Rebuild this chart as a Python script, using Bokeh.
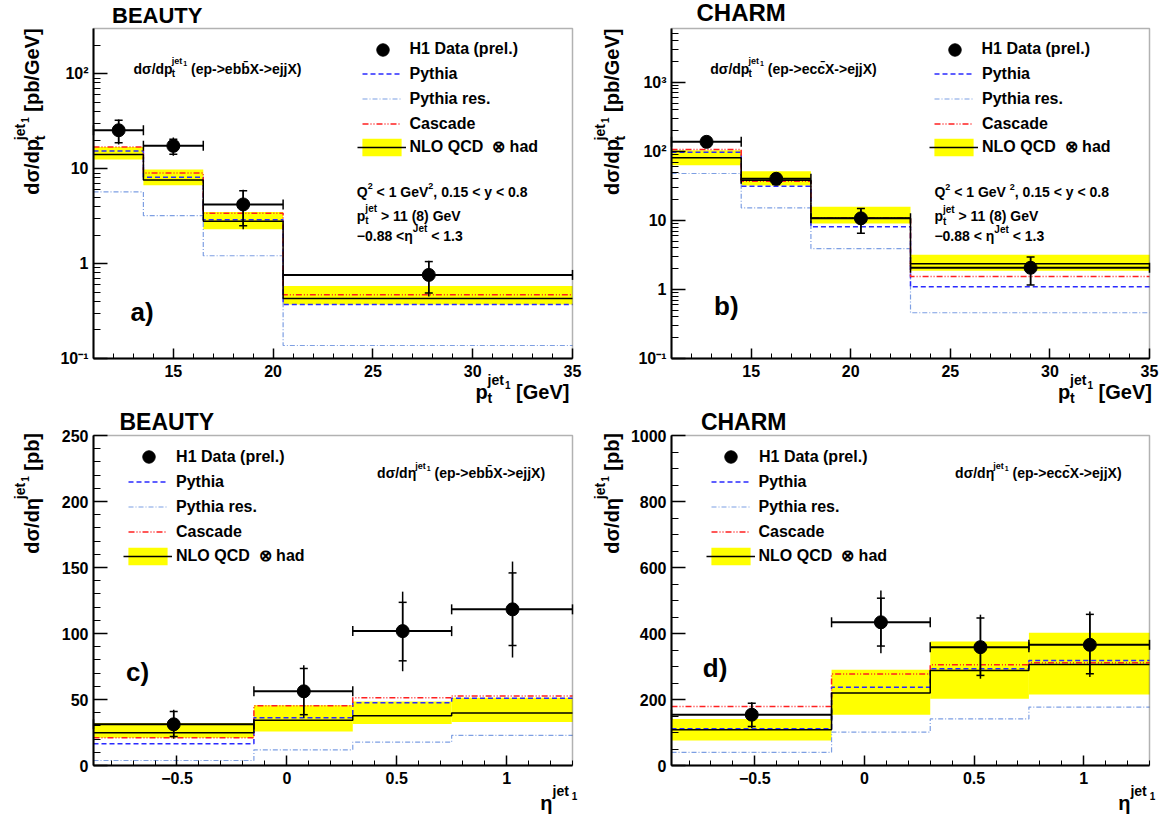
import math
from bokeh.plotting import figure
from bokeh.models import (ColumnDataSource, Whisker, TeeHead, Label, Legend, LegendItem,
                          FixedTicker, SingleIntervalTicker, Range1d, BoxAnnotation)
from bokeh.layouts import column, row
from bokeh.embed import file_html
from bokeh.resources import INLINE

FONT = "Liberation Sans"

# ---------------- data ----------------
# a) BEAUTY  dsigma/dpt [pb/GeV]
a_edges = [11.0, 13.5, 16.5, 20.5, 35.0]
a_x = [12.26, 15.0, 18.5, 27.8]
a_y = [25.4, 17.4, 4.2, 0.76]
a_stat_lo = [18.8, 14.2, 2.5, 0.49]
a_stat_hi = [32.3, 20.4, 5.85, 1.05]
a_tot_lo = [18.0, 13.7, 2.3, 0.45]
a_tot_hi = [32.9, 21.3, 6.0, 1.07]
a_nlo = [14.1, 7.6, 2.8, 0.43]
a_nlo_lo = [12.5, 6.7, 2.3, 0.37]
a_nlo_hi = [16.9, 9.8, 3.5, 0.58]
a_pythia = [15.4, 8.1, 2.9, 0.37]
a_pythia_res = [5.7, 3.2, 1.21, 0.137]
a_cascade = [16.9, 9.0, 3.4, 0.47]

# b) CHARM  dsigma/dpt [pb/GeV]
b_edges = [11.0, 14.5, 18.0, 23.0, 35.0]
b_x = [12.76, 16.26, 20.51, 29.03]
b_y = [137.0, 40.0, 10.7, 2.06]
b_stat_lo = [125.0, 33.0, 6.5, 1.16]
b_stat_hi = [150.0, 46.5, 14.9, 2.95]
b_tot_lo = [125.0, 33.0, 6.5, 1.16]
b_tot_hi = [150.0, 46.5, 14.9, 2.95]
b_nlo = [80.5, 38.1, 10.7, 2.36]
b_nlo_lo = [63.0, 32.0, 9.0, 1.87]
b_nlo_hi = [104.0, 51.6, 15.7, 3.17]
b_pythia = [97.3, 31.3, 8.1, 1.09]
b_pythia_res = [47.7, 15.2, 3.9, 0.46]
b_cascade = [106.0, 37.0, 10.8, 1.54]

# c) BEAUTY  dsigma/deta [pb]
eta_edges = [-0.88, -0.15, 0.3, 0.75, 1.3]
c_x = [-0.515, 0.077, 0.527, 1.027]
c_y = [31.2, 56.2, 101.8, 118.3]
c_stat_lo = [22.0, 38.5, 79.3, 90.9]
c_stat_hi = [41.0, 73.5, 123.6, 145.9]
c_tot_lo = [20.3, 36.2, 71.4, 81.8]
c_tot_hi = [42.3, 76.0, 131.7, 154.5]
c_nlo = [24.8, 34.2, 37.7, 39.8]
c_nlo_lo = [21.0, 25.8, 31.5, 32.9]
c_nlo_hi = [32.2, 45.6, 48.5, 51.4]
c_pythia = [16.5, 36.2, 47.6, 51.0]
c_pythia_res = [3.8, 11.9, 17.7, 22.8]
c_cascade = [21.0, 45.3, 51.4, 52.7]

# d) CHARM  dsigma/deta [pb]
d_x = [-0.514, 0.075, 0.529, 1.028]
d_y = [154.0, 434.0, 358.6, 365.7]
d_stat_lo = [118.0, 362.0, 273.0, 278.0]
d_stat_hi = [189.0, 507.0, 447.0, 458.0]
d_tot_lo = [114.0, 340.0, 263.0, 268.0]
d_tot_hi = [192.0, 530.0, 457.0, 467.0]
d_nlo = [108.0, 220.0, 288.0, 306.0]
d_nlo_lo = [76.0, 154.0, 202.0, 215.0]
d_nlo_hi = [141.0, 290.0, 376.0, 402.0]
d_pythia = [111.0, 237.0, 293.0, 318.0]
d_pythia_res = [40.0, 101.0, 141.0, 177.0]
d_cascade = [179.0, 277.0, 305.0, 311.0]

legend_labels = ["H1 Data (prel.)", "Pythia", "Pythia res.", "Cascade", "NLO QCD \u00a0\u2297 had"]
log_tick_labels = {0.1: "10\u207b\u00b9", 1: "1", 10: "10", 100: "10\u00b2", 1000: "10\u00b3"}
eta_tick_labels = {-0.5: "\u22120.5", 0: "0", 0.5: "0.5", 1: "1"}

# ---------------- text helpers ----------------
CW = {' ': 278, '(': 333, ')': 333, ',': 278, '-': 333, '.': 278, '/': 278, '<': 584, '>': 584,
      '[': 333, ']': 333, '\u2212': 584, '\u03c3': 620, '\u03b7': 611, '\u2297': 838, '\u0304': 0,
      '\u00a0': 278}
for ch in "0123456789":
    CW[ch] = 556
CW.update(dict(A=722, B=722, C=722, D=722, E=667, G=778, H=722, J=556, L=611, M=833, N=722, O=778,
               P=667, Q=778, R=722, T=611, U=722, V=667, X=667, Y=667))
CW.update(dict(a=556, b=611, c=556, d=611, e=556, h=611, i=278, j=278, l=278, n=611, o=611, p=611,
               r=389, s=556, t=333, y=556, x=556))

BASE_FIX = 0.3  # the renderer draws "alphabetic" text a bit low; lift it by this fraction of the size


def tw(s, size):
    return sum(CW.get(ch, 600) for ch in s) / 1000.0 * size


def put_text(p, sx, sy, text, size, angle=0.0):
    lift = BASE_FIX * size
    sx += -math.sin(angle) * lift
    sy += math.cos(angle) * lift
    p.add_layout(Label(x=sx, y=sy, x_units="screen", y_units="screen", text=text, angle=angle,
                       text_font=FONT, text_font_size=f"{size}px", text_font_style="bold",
                       text_color="black", text_align="left", text_baseline="alphabetic"))


def rich(p, sx, sy, segs, angle=0.0):
    dx, dy = math.cos(angle), math.sin(angle)
    nx, ny = -math.sin(angle), math.cos(angle)
    cur = 0.0
    for s in segs:
        if isinstance(s, (int, float)):
            cur += s
            continue
        text, size, rise, adv = s
        lead = len(text) - len(text.lstrip(" "))
        body = text.strip(" ")
        off = cur + tw(" " * lead, size)
        if body:
            put_text(p, sx + off * dx + rise * nx, sy + off * dy + rise * ny, body, size, angle)
        if adv:
            cur += tw(text, size)


def seg_ylab_pt():
    return [("d\u03c3/dp", 20, 0, True), ("t", 14, -6, False), ("jet", 14, 14, True), 1,
            ("1", 10, 10, True), (" [pb/GeV]", 20, 0, True)]


def seg_ylab_eta():
    return [("d\u03c3/d\u03b7", 20, 0, True), ("jet", 14, 14, True), 1,
            ("1", 10, 10, True), (" [pb]", 20, 0, True)]


def seg_xlab_pt():
    return [("p", 20, 0, True), ("t", 14, -4, False), ("jet", 14, 14, True), 1,
            ("1", 10, 10, True), (" [GeV]", 20, 0, True)]


def seg_xlab_eta():
    return [("\u03b7", 20, 0, True), ("jet", 14, 14, True), 3, ("1", 10, 10, True)]


def seg_proc(var, q):
    if var == "pt":
        head = [("d\u03c3/dp", 14, 0, True), ("t", 10, -4, False)]
    else:
        head = [("d\u03c3/d\u03b7", 14, 0, True)]
    return head + [("jet", 9, 9, True), 1, ("1", 7, 7, True),
                   (" (ep->e" + q + q + "\u0304X->ejjX)", 14, 0, True)]


def seg_cuts(variant):
    gev = " < 1 GeV" if variant == "a" else " < 1 GeV "
    eta = "\u22120.88 <\u03b7" if variant == "a" else "\u22120.88 < \u03b7"
    l1 = [("Q", 14, 0, True), ("2", 9, 7, True), (gev, 14, 0, True), ("2", 9, 7, True),
          (", 0.15 < y < 0.8", 14, 0, True)]
    l2 = [("p", 14, 0, True), ("t", 10, -4, False), ("jet", 10, 8, True), (" > 11 (8) GeV", 14, 0, True)]
    l3 = [(eta, 14, 0, True), ("Jet", 10, 8, True), (" < 1.3", 14, 0, True)]
    return l1, l2, l3


def panel(cfg):
    W, Hc = cfg["canvas"]
    rx0, rx1, ry0, ry1 = cfg["region"]          # pixel box of the data region inside the canvas
    xa, xb = cfg["xr"]
    ya, yb = cfg["yr"]
    # extend the ranges so that the data region sits at the wanted pixels (frame = whole canvas)
    sxp = (rx1 - rx0) / (xb - xa)
    x_range = Range1d(xa - rx0 / sxp, xb + (W - rx1) / sxp)
    if cfg["log"]:
        k = (ry1 - ry0) / (math.log10(yb) - math.log10(ya))
        y_range = Range1d(10 ** (math.log10(ya) - (Hc - ry1) / k), 10 ** (math.log10(yb) + ry0 / k))
    else:
        k = (ry1 - ry0) / (yb - ya)
        y_range = Range1d(ya - (Hc - ry1) / k, yb + ry0 / k)

    p = figure(width=W, height=Hc, x_range=x_range, y_range=y_range,
               y_axis_type="log" if cfg["log"] else "linear", output_backend="svg", toolbar_location=None,
               min_border=0, min_border_left=0, min_border_right=0, min_border_top=0, min_border_bottom=0)
    p.background_fill_color = "white"
    p.border_fill_color = "white"
    p.outline_line_color = None
    p.xgrid.visible = False
    p.ygrid.visible = False

    # axes of the library, pinned to the edges of the data region
    xax = p.xaxis[0]
    yax = p.yaxis[0]
    xax.fixed_location = ya
    xax.bounds = (xa, xb)
    yax.fixed_location = xa
    yax.bounds = (ya, yb)
    if cfg["var"] == "pt":
        xax.ticker = SingleIntervalTicker(interval=5, num_minor_ticks=5)
    else:
        xax.ticker = SingleIntervalTicker(interval=0.5, num_minor_ticks=5)
        xax.major_label_overrides = eta_tick_labels
    if cfg["log"]:
        majors = [t for t in (0.1, 1, 10, 100, 1000) if t <= yb]
        minors = [m * 10.0 ** e for e in range(-1, 4) for m in range(2, 10) if m * 10.0 ** e < yb]
        yax.ticker = FixedTicker(ticks=majors, minor_ticks=minors)
        yax.major_label_overrides = {kk: v for kk, v in log_tick_labels.items() if kk in majors}
    else:
        yax.ticker = SingleIntervalTicker(interval=cfg["yint"], num_minor_ticks=cfg["yminor"])
    xax.major_tick_in, xax.major_tick_out = 10, 0
    xax.minor_tick_in, xax.minor_tick_out = 5, 0
    xax.major_label_standoff = 6
    yax.major_tick_in, yax.major_tick_out = 14, 0
    yax.minor_tick_in, yax.minor_tick_out = 7, 0
    yax.major_label_standoff = 5
    for ax in (xax, yax):
        ax.axis_line_width = 2
        ax.axis_line_color = "black"
        ax.major_tick_line_width = 1.5
        ax.minor_tick_line_width = 1
        ax.major_tick_line_color = "black"
        ax.minor_tick_line_color = "black"
        ax.major_label_text_font = FONT
        ax.major_label_text_font_size = "16px"
        ax.major_label_text_font_style = "bold"
        ax.major_label_text_color = "black"

    edges = cfg["edges"]
    d = cfg["data"]
    # NLO uncertainty band
    r_band = p.quad(left=edges[:-1], right=edges[1:], bottom=d["nlo_lo"], top=d["nlo_hi"],
                    fill_color="#ffff00", line_color=None)

    def hstep(vals, **kw):
        return p.step(x=edges, y=list(vals) + [vals[-1]], mode="after", **kw)

    r_res = hstep(d["pythia_res"], line_color="#7d9fe3", line_dash="5 2 1 2", line_width=1.2)
    r_py = hstep(d["pythia"], line_color="#2a2aff", line_dash="5 3", line_width=1.5)
    r_cas = hstep(d["cascade"], line_color="#ff2020", line_dash="6 2 1 2 1 2", line_width=1.5)
    r_nlo = hstep(d["nlo"], line_color="black", line_width=1.5)

    src = ColumnDataSource(dict(x=d["x"], y=d["y"], slo=d["stat_lo"], shi=d["stat_hi"],
                                tlo=d["tot_lo"], thi=d["tot_hi"], xlo=edges[:-1], xhi=edges[1:]))
    p.add_layout(Whisker(source=src, base="x", lower="tlo", upper="thi", dimension="height",
                         line_color="black", line_width=1.5, upper_head=None, lower_head=None,
                         level="annotation"))
    p.add_layout(Whisker(source=src, base="x", lower="slo", upper="shi", dimension="height",
                         line_color="black", line_width=1.5,
                         upper_head=TeeHead(size=8, line_color="black", line_width=1.5),
                         lower_head=TeeHead(size=8, line_color="black", line_width=1.5),
                         level="annotation"))
    p.add_layout(Whisker(source=src, base="y", lower="xlo", upper="xhi", dimension="width",
                         line_color="black", line_width=2,
                         upper_head=TeeHead(size=10, line_color="black", line_width=1.5),
                         lower_head=TeeHead(size=10, line_color="black", line_width=1.5),
                         level="annotation"))
    r_data = p.scatter(x="x", y="y", source=src, marker="circle", size=13,
                       fill_color="black", line_color="black")

    # frame box around the data region
    p.add_layout(BoxAnnotation(left=xa, right=xb, bottom=ya, top=yb, fill_color=None, fill_alpha=0,
                               line_color="black", line_width=1.5, level="annotation"))

    def S(dx, dy):
        return rx0 + dx, Hc - (ry0 + dy)

    # legends
    mx, tx, lx, rows = cfg["leg"]
    common = dict(padding=0, margin=0, border_line_alpha=0, background_fill_alpha=0,
                  label_text_font=FONT, label_text_font_size="16px", label_text_font_style="bold",
                  label_text_color="black")
    gd = 31
    p.add_layout(Legend(items=[LegendItem(label=legend_labels[0], renderers=[r_data])],
                        location=S(mx - gd / 2, rows[0] + gd / 2), glyph_width=gd, glyph_height=gd,
                        label_height=gd, label_standoff=int(round(tx - mx - gd / 2)), spacing=0, **common))
    gh, sp = 19, 6
    p.add_layout(Legend(items=[LegendItem(label=legend_labels[1], renderers=[r_py]),
                               LegendItem(label=legend_labels[2], renderers=[r_res]),
                               LegendItem(label=legend_labels[3], renderers=[r_cas])],
                        location=S(lx, rows[1] - gh / 2 + 3 * gh + 2 * sp), glyph_width=39,
                        glyph_height=gh, label_height=gh, label_standoff=int(round(tx - lx - 39)),
                        spacing=sp, **common))
    gw2, gh2 = 49, 22
    p.add_layout(Legend(items=[LegendItem(label=legend_labels[4], renderers=[r_band, r_nlo])],
                        location=S(lx - 5, rows[4] + gh2 / 2), glyph_width=gw2, glyph_height=gh2,
                        label_height=gh2, label_standoff=int(round(tx - (lx - 5) - gw2)), spacing=0,
                        **common))

    # texts
    tdx, tdy, tsize, ttext = cfg["title"]
    put_text(p, *S(tdx, tdy), ttext, tsize)
    ldx, ldy, lsize = cfg["plabel"]
    put_text(p, *S(ldx, ldy), cfg["name"] + ")", lsize)
    rich(p, *S(*cfg["proc"]), seg_proc(cfg["var"], cfg["q"]))
    if cfg["cuts"] is not None:
        cdx, cdys, variant = cfg["cuts"]
        for segs, cdy in zip(seg_cuts(variant), cdys):
            rich(p, *S(cdx, cdy), segs)
    rich(p, *S(*cfg["ylab"]), seg_ylab_pt() if cfg["var"] == "pt" else seg_ylab_eta(), angle=math.pi / 2)
    rich(p, *S(*cfg["xlab"]), seg_xlab_pt() if cfg["var"] == "pt" else seg_xlab_eta())
    return p


def pack(x, y, slo, shi, tlo, thi, nlo, nlo_lo, nlo_hi, py, res, cas):
    return dict(x=x, y=y, stat_lo=slo, stat_hi=shi, tot_lo=tlo, tot_hi=thi, nlo=nlo, nlo_lo=nlo_lo,
                nlo_hi=nlo_hi, pythia=py, pythia_res=res, cascade=cas)


rows_top = [21, 45.6, 70.9, 94.8, 118.8]
rows_bot = [21.7, 46.7, 71.7, 95.7, 120.7]

pa = panel(dict(name="a", var="pt", q="b", log=True, xr=(11, 35), yr=(0.1, 300), edges=a_edges,
                data=pack(a_x, a_y, a_stat_lo, a_stat_hi, a_tot_lo, a_tot_hi, a_nlo, a_nlo_lo, a_nlo_hi,
                          a_pythia, a_pythia_res, a_cascade),
                canvas=(584, 406), region=(93, 572, 28, 358),
                leg=(289, 316.5, 268.5, rows_top), title=(18.5, -6.7, 22, "BEAUTY"), plabel=(37, 291, 26),
                proc=(40, 44.2), cuts=(263.3, (167.3, 191.3, 211.2), "a"), ylab=(-55.6, 166.3),
                xlab=(381.9, 369.5)))
pb = panel(dict(name="b", var="pt", q="c", log=True, xr=(11, 35), yr=(0.1, 6000), edges=b_edges,
                data=pack(b_x, b_y, b_stat_lo, b_stat_hi, b_tot_lo, b_tot_hi, b_nlo, b_nlo_lo, b_nlo_hi,
                          b_pythia, b_pythia_res, b_cascade),
                canvas=(582, 406), region=(87, 565, 28, 358),
                leg=(283, 311, 263, rows_top), title=(25, -9.3, 24, "CHARM"), plabel=(42.6, 285, 26),
                proc=(38.8, 44.3), cuts=(262.9, (167.7, 191.7, 211.7), "b"), ylab=(-53.5, 166.5),
                xlab=(386.4, 369.5)))
pc = panel(dict(name="c", var="eta", q="b", log=False, xr=(-0.88, 1.3), yr=(0, 250), yint=50, yminor=5,
                edges=eta_edges,
                data=pack(c_x, c_y, c_stat_lo, c_stat_hi, c_tot_lo, c_tot_hi, c_nlo, c_nlo_lo, c_nlo_hi,
                          c_pythia, c_pythia_res, c_cascade),
                canvas=(584, 415), region=(93, 572, 29, 359),
                leg=(55.6, 83.4, 35, rows_bot), title=(26, -7, 23, "BEAUTY"), plabel=(32.6, 244.3, 26),
                proc=(283.6, 41.7), cuts=None, ylab=(-55.6, 118.3), xlab=(446.8, 373.3)))
pd_ = panel(dict(name="d", var="eta", q="c", log=False, xr=(-0.88, 1.3), yr=(0, 1000), yint=200, yminor=4,
                 edges=eta_edges,
                 data=pack(d_x, d_y, d_stat_lo, d_stat_hi, d_tot_lo, d_tot_hi, d_nlo, d_nlo_lo, d_nlo_hi,
                           d_pythia, d_pythia_res, d_cascade),
                 canvas=(582, 415), region=(87, 565, 29, 359),
                 leg=(59.5, 87.8, 39.5, rows_bot), title=(29.4, -7, 23, "CHARM"), plabel=(31.3, 240, 26),
                 proc=(283.6, 41.7), cuts=None, ylab=(-53.5, 118.3), xlab=(446.7, 373.3)))

layout = column(row(pa, pb), row(pc, pd_))
open("out.html", "w").write(file_html(layout, INLINE))
